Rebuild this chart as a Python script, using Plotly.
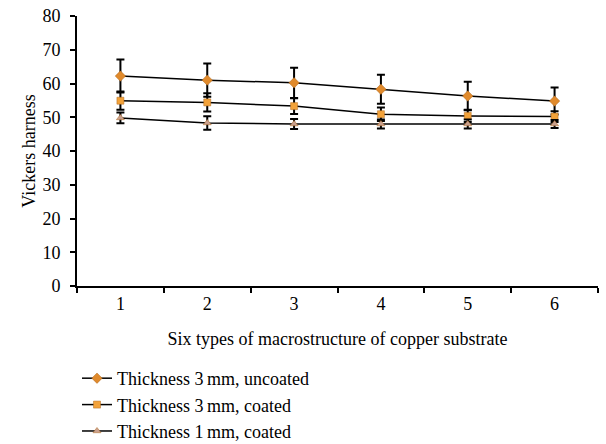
import plotly.graph_objects as go

categories = ["1", "2", "3", "4", "5", "6"]
uncoated_3mm = [62.2, 61.0, 60.2, 58.3, 56.3, 54.8]
uncoated_3mm_err = [4.9, 4.9, 4.5, 4.3, 4.2, 4.0]
coated_3mm = [54.9, 54.4, 53.3, 50.9, 50.4, 50.2]
coated_3mm_err = [2.7, 2.7, 2.3, 2.0, 1.8, 1.6]
coated_1mm = [49.8, 48.3, 48.0, 48.0, 48.0, 48.0]
coated_1mm_err = [1.6, 2.0, 1.5, 1.3, 1.3, 1.2]
names = ["Thickness 3\u2009mm, uncoated", "Thickness 3\u2009mm, coated", "Thickness 1\u2009mm, coated"]

FONT = "Liberation Serif"

series = [
    (uncoated_3mm, uncoated_3mm_err, "diamond", "#E08A2C", 8),
    (coated_3mm, coated_3mm_err, "square", "#F2A23A", 7),
    (coated_1mm, coated_1mm_err, "triangle-up", "#C9A08E", 7),
]

fig = go.Figure()
for (vals, errs, sym, col, sz), name in zip(series, names):
    fig.add_trace(go.Scatter(
        x=categories, y=vals, name=name, mode="lines+markers",
        line=dict(color="black", width=1.5),
        marker=dict(symbol=sym, color=col, size=sz, line=dict(width=0.5, color="#B06A20")),
        error_y=dict(type="data", array=errs, symmetric=True, color="black", thickness=2, width=4),
    ))

fig.update_layout(
    width=606, height=444,
    margin=dict(l=77, r=8, t=16, b=158, autoexpand=False),
    paper_bgcolor="white", plot_bgcolor="white",
    font=dict(family=FONT, size=18, color="black"),
    showlegend=True,
    legend=dict(x=0.0, y=-0.274, xanchor="left", yanchor="top",
                font=dict(family=FONT, size=18, color="black"),
                tracegroupgap=0, itemwidth=30, bgcolor="rgba(0,0,0,0)"),
    xaxis=dict(
        type="category", range=[-0.5, 5.5],
        showline=True, linecolor="black", linewidth=2,
        ticks="outside", tickson="boundaries", ticklen=5, tickwidth=2, tickcolor="black",
        showgrid=False, zeroline=False,
        title=dict(text="Six types of macrostructure of copper substrate", font=dict(family=FONT, size=18), standoff=20),
        tickfont=dict(family=FONT, size=18),
    ),
    yaxis=dict(
        range=[0, 80], dtick=10,
        showline=True, linecolor="black", linewidth=2,
        ticks="outside", ticklen=5, tickwidth=2, tickcolor="black",
        ticklabelstandoff=6,
        showgrid=False, zeroline=False,
        title=dict(text="Vickers harness", font=dict(family=FONT, size=18), standoff=2),
        tickfont=dict(family=FONT, size=18),
    ),
)

fig.write_html("out.html")
